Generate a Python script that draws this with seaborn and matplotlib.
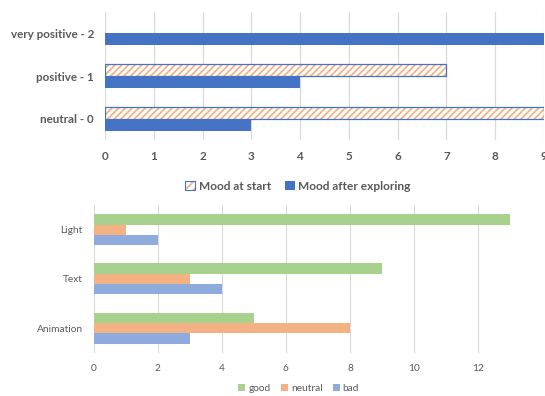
import pandas as pd
import matplotlib.pyplot as plt
import seaborn as sns
from matplotlib.patches import Rectangle, Patch
from matplotlib.legend_handler import HandlerTuple

# data - top chart (mood)
mood_levels = ['very positive - 2', 'positive - 1', 'neutral - 0']
mood_start = [0, 7, 9]
mood_after = [9, 4, 3]

# data - bottom chart (feature ratings)
features = ['Light', 'Text', 'Animation']
good = [13, 9, 5]
neutral = [1, 3, 8]
bad = [2, 4, 3]

sns.set_theme(style='white')
plt.rcParams['font.family'] = ['Lato', 'DejaVu Sans']
plt.rcParams['hatch.linewidth'] = 1.3

GREY = '#595959'
BLUE = '#4472c4'
ORANGE = '#f4b183'

fig = plt.figure(figsize=(5.45, 3.96), dpi=100)
ax1 = fig.add_axes([0.193, 0.646, 0.805, 0.324])
ax2 = fig.add_axes([0.172, 0.109, 0.764, 0.373])

# top chart
df1 = pd.DataFrame({
    'level': mood_levels * 2,
    'count': mood_start + mood_after,
    'series': ['Mood at start'] * 3 + ['Mood after exploring'] * 3,
})
sns.barplot(data=df1, y='level', x='count', hue='series', order=mood_levels,
            hue_order=['Mood at start', 'Mood after exploring'],
            palette=[ORANGE, BLUE], width=0.56, saturation=1,
            orient='h', ax=ax1, legend=False)

n = len(mood_levels)
for i, p in enumerate(ax1.patches):
    if i < n:
        p.set_facecolor('white')
        p.set_edgecolor(ORANGE)
        p.set_hatch('/////')
        p.set_linewidth(0)
        if p.get_width() > 0:
            ax1.add_patch(Rectangle((p.get_x(), p.get_y()), p.get_width(), p.get_height(),
                                    fill=False, edgecolor=BLUE, lw=0.9, zorder=3))
    else:
        p.set_edgecolor('none')

ax1.set_xlim(0, 9)
ax1.set_xticks(range(0, 10))
ax1.grid(axis='x', color='#d9d9d9', lw=0.9)
ax1.set_axisbelow(True)
for s in ax1.spines.values():
    s.set_visible(False)
ax1.set_xlabel('')
ax1.set_ylabel('')
ax1.tick_params(axis='both', length=0, labelsize=8.4, labelcolor=GREY, pad=8)
for t in ax1.get_xticklabels() + ax1.get_yticklabels():
    t.set_fontweight('bold')

h_start = (Patch(facecolor='white', edgecolor=ORANGE, hatch='////', lw=0),
           Patch(facecolor='none', edgecolor=BLUE, lw=0.8))
h_after = Patch(facecolor=BLUE, edgecolor='none')
leg1 = fig.legend([h_start, h_after], ['Mood at start', 'Mood after exploring'], loc='center',
                  bbox_to_anchor=(0.547, 0.53), ncol=2, frameon=False,
                  handler_map={tuple: HandlerTuple(ndivide=1, pad=0)},
                  handlelength=0.8, handleheight=0.8, handletextpad=0.3,
                  columnspacing=1.2, prop={'size': 8.6, 'weight': 'bold'})
for t in leg1.get_texts():
    t.set_color(GREY)

# bottom chart
df2 = pd.DataFrame({
    'feature': features * 3,
    'count': good + neutral + bad,
    'rating': ['good'] * 3 + ['neutral'] * 3 + ['bad'] * 3,
})
sns.barplot(data=df2, y='feature', x='count', hue='rating', order=features,
            hue_order=['good', 'neutral', 'bad'],
            palette=['#a9d18e', ORANGE, '#8faadc'], width=0.63, saturation=1,
            orient='h', ax=ax2, legend=False)
for p in ax2.patches:
    p.set_edgecolor('none')

ax2.set_xlim(0, 13)
ax2.set_xticks(range(0, 13, 2))
ax2.grid(axis='x', color='#d9d9d9', lw=0.8)
ax2.set_axisbelow(True)
for s in ax2.spines.values():
    s.set_visible(False)
ax2.set_xlabel('')
ax2.set_ylabel('')
ax2.tick_params(axis='both', length=0, labelsize=7.3, labelcolor=GREY, pad=8)

h2 = [Patch(facecolor=c, edgecolor='none') for c in ['#a9d18e', ORANGE, '#8faadc']]
leg2 = fig.legend(h2, ['good', 'neutral', 'bad'], loc='center',
                  bbox_to_anchor=(0.548, 0.02), ncol=3, frameon=False,
                  handlelength=0.7, handleheight=0.7, handletextpad=0.3,
                  columnspacing=1.0, prop={'size': 7.3})
for t in leg2.get_texts():
    t.set_color(GREY)

plt.savefig('out.png', dpi=100)
